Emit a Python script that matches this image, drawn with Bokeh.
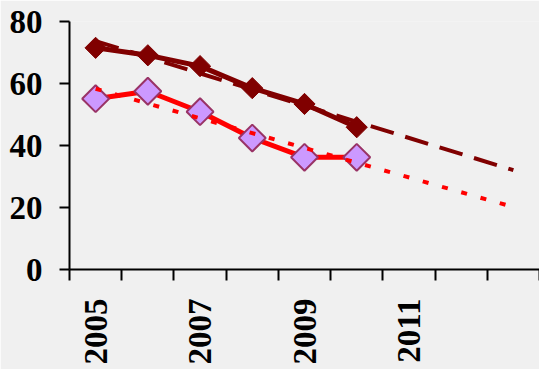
import math
import numpy as np
from bokeh.plotting import figure
from bokeh.models import FixedTicker, Range1d
from bokeh.embed import file_html
from bokeh.resources import INLINE

# ---- data ----
years_all = [2005, 2006, 2007, 2008, 2009, 2010, 2011, 2012, 2013]
years_obs = [2005, 2006, 2007, 2008, 2009, 2010]
label_years = [2005, 2007, 2009, 2011]
y_ticks = [0, 20, 40, 60, 80]
series_dark = [71.5, 69.1, 65.6, 58.5, 53.4, 45.9]
series_purple = [55.1, 57.5, 50.9, 42.4, 36.2, 36.2]

# linear trendlines (as in the spreadsheet) extended to the last year
trend_x = [years_all[0], years_all[-1]]
k_d, b_d = np.polyfit(years_obs, series_dark, 1)
k_p, b_p = np.polyfit(years_obs, series_purple, 1)
trend_dark = [k_d * x + b_d for x in trend_x]
trend_purple = [k_p * x + b_p for x in trend_x]

BG = "#f0f0f0"
FONT = "Liberation Serif"

p = figure(width=539, height=369, output_backend="svg", toolbar_location=None,
           x_range=Range1d(years_all[0] - 0.5, years_all[-1] + 0.5),
           y_range=Range1d(0, 80),
           min_border_left=69, min_border_right=0, min_border_top=21, min_border_bottom=100,
           background_fill_color=BG, border_fill_color=BG)
p.outline_line_color = None
p.grid.visible = False

# data lines
p.line(years_obs, series_dark, line_color="#800000", line_width=5)
p.scatter(years_obs, series_dark, marker="square", angle=math.pi / 4, size=15,
          fill_color="#800000", line_color="#800000", line_width=1)
p.line(years_obs, series_purple, line_color="#ff0000", line_width=5)
p.scatter(years_obs, series_purple, marker="square", angle=math.pi / 4, size=19,
          fill_color="#cc99ff", line_color="#993366", line_width=2)

# trendlines
p.line(trend_x, trend_dark, line_color="#800000", line_width=4, line_dash="24 12")
p.line(trend_x, trend_purple, line_color="#ff0000", line_width=4, line_dash="6 14")

# x axis
xa = p.xaxis[0]
xa.ticker = FixedTicker(ticks=label_years,
                        minor_ticks=[y - 0.5 for y in years_all] + [years_all[-1] + 0.5])
xa.axis_line_width = 2
xa.axis_line_color = "black"
xa.major_tick_line_color = None
xa.major_tick_out = 10
xa.major_tick_in = 0
xa.minor_tick_line_color = "black"
xa.minor_tick_line_width = 2
xa.minor_tick_out = 11
xa.minor_tick_in = 0
xa.major_label_orientation = math.pi / 2
xa.major_label_standoff = 18
xa.major_label_text_font = FONT
xa.major_label_text_font_style = "bold"
xa.major_label_text_font_size = "33px"
xa.major_label_text_color = "black"

# y axis
ya = p.yaxis[0]
ya.ticker = FixedTicker(ticks=y_ticks, minor_ticks=[])
ya.axis_line_width = 2
ya.axis_line_color = "black"
ya.major_tick_line_width = 2
ya.major_tick_line_color = "black"
ya.major_tick_out = 10
ya.major_tick_in = 0
ya.minor_tick_line_color = None
ya.major_label_standoff = 17
ya.major_label_text_font = FONT
ya.major_label_text_font_style = "bold"
ya.major_label_text_font_size = "33px"
ya.major_label_text_color = "black"

open("out.html", "w").write(file_html(p, INLINE))
